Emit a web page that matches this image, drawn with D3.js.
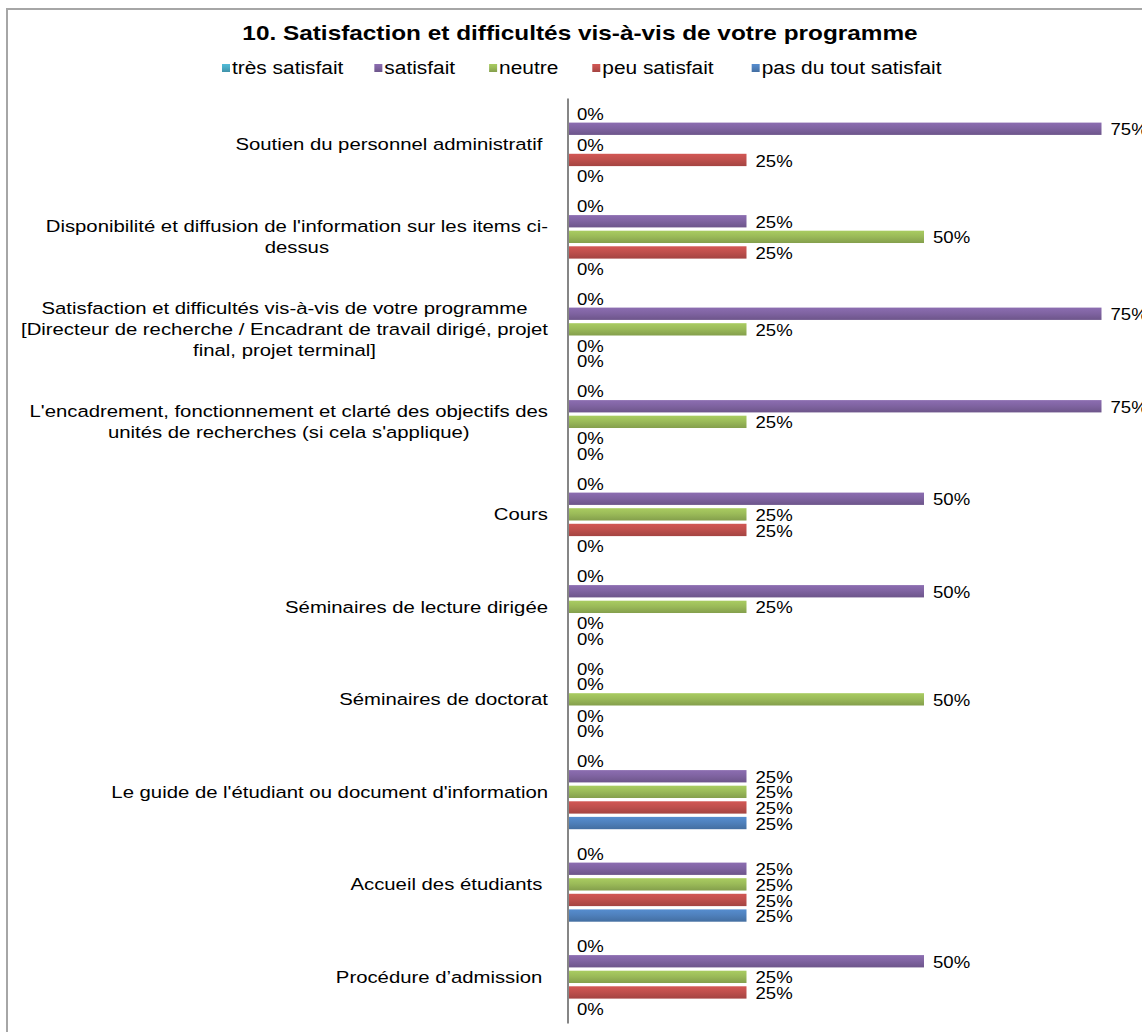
<!DOCTYPE html>
<html><head><meta charset="utf-8">
<script src="https://cdn.jsdelivr.net/npm/d3@7"></script>
<style>
body{margin:0;background:#fff}
text{font-family:"Liberation Sans",Arial,sans-serif;white-space:pre;fill:#000}
</style>
</head><body>
<svg id="chart" width="1142" height="1032"></svg>
<script>
const chartTitle = "10. Satisfaction et difficultés vis-à-vis de votre programme";
const seriesNames = ["très satisfait","satisfait","neutre","peu satisfait","pas du tout satisfait"];
const seriesColors = ["#4BACC6","#8064A2","#9BBB59","#C0504D","#4F81BD"];
const categories = [
  "Soutien du personnel administratif ",
  "Disponibilité et diffusion de l'information sur les items ci-\ndessus",
  "Satisfaction et difficultés vis-à-vis de votre programme\n[Directeur de recherche / Encadrant de travail dirigé, projet\nfinal, projet terminal]",
  "L'encadrement, fonctionnement et clarté des objectifs des\nunités de recherches (si cela s'applique)",
  "Cours",
  "Séminaires de lecture dirigée",
  "Séminaires de doctorat",
  "Le guide de l'étudiant ou document d'information",
  "Accueil des étudiants ",
  "Procédure d’admission "
];
const tresSatisfait = [0,0,0,0,0,0,0,0,0,0];
const satisfait     = [75,25,75,75,50,50,0,25,25,50];
const neutre        = [0,50,25,25,25,25,50,25,25,25];
const peuSatisfait  = [25,25,0,0,25,0,0,25,25,25];
const pasDuTout     = [0,0,0,0,0,0,0,25,25,0];
const seriesValues = [tresSatisfait, satisfait, neutre, peuSatisfait, pasDuTout];

const SX = 1.16;   // horizontal text stretch seen in the reference
const SXC = 1.195; // category labels
const svg = d3.select("#chart");
const defs = svg.append("defs");
seriesColors.forEach((c,i)=>{
  const g = defs.append("linearGradient").attr("id","g"+i).attr("x1",0).attr("y1",0).attr("x2",0).attr("y2",1);
  g.append("stop").attr("offset","0%").attr("stop-color", d3.color(c).brighter(0.25));
  g.append("stop").attr("offset","45%").attr("stop-color", c);
  g.append("stop").attr("offset","100%").attr("stop-color", d3.color(c).darker(0.45));
});

// border
svg.append("path").attr("d","M7,1032V9H1142").attr("fill","none").attr("stroke","#a6a6a6").attr("stroke-width",2);

function stext(parent, x, y, str, size, anchor, weight, sx){
  const s = sx || SX;
  return parent.append("text")
    .attr("transform",`translate(${x},${y}) scale(${s},1)`)
    .attr("font-size",size).attr("text-anchor",anchor||"start")
    .attr("font-weight",weight||"normal").attr("dy","0.35em").text(str);
}

// title
stext(svg, 580, 33, chartTitle, 21, "middle", "bold");

// legend
const legend = svg.append("g");
let lx = 222;
const legendGaps = [31, 34, 34, 38];
seriesNames.forEach((n,i)=>{
  const g = legend.append("g");
  g.append("rect").attr("x",lx).attr("y",64).attr("width",8).attr("height",8).attr("fill",`url(#g${i})`);
  const t = stext(g, lx+10, 68, n, 18, "start");
  const w = t.node().getComputedTextLength()*SX;
  lx += 10 + w + (legendGaps[i] || 0);
});

// scales
const y0 = d3.scaleBand().domain(categories).range([98.1, 1023.1]).paddingInner(0.157).paddingOuter(0.0785);
const y1 = d3.scaleBand().domain(seriesNames).range([0, y0.bandwidth()]).paddingInner(0.21).paddingOuter(0.105);
const x = d3.scaleLinear().domain([0,75]).range([569, 1101.5]);

// bars
const groups = svg.append("g").selectAll("g").data(categories).join("g")
  .attr("transform", d=>`translate(0,${y0(d)})`);
groups.each(function(cat, ci){
  const g = d3.select(this);
  seriesNames.forEach((s, si)=>{
    const v = seriesValues[si][ci];
    const yy = y1(s);
    if (v > 0) {
      g.append("rect").attr("x", x(0)).attr("y", yy).attr("width", x(v)-x(0)).attr("height", y1.bandwidth())
        .attr("fill", `url(#g${si})`);
    }
    stext(g, x(v) + (v>0 ? 9 : 8), yy + y1.bandwidth()/2 + 1, v + "%", 16, "start");
  });
});

// axis line
const axis = svg.append("g").attr("transform","translate(567.5,0)")
  .call(d3.axisLeft(y0).tickSize(0).tickFormat(""));
axis.select(".domain").attr("stroke","#868686").attr("stroke-width",2);

// category labels
const labRight = 548;
const lineH = 21;
categories.forEach(cat=>{
  const lines = cat.split("\n");
  const cy = y0(cat) + y0.bandwidth()/2;
  const g = svg.append("g");
  if (lines.length === 1) {
    stext(g, labRight, cy, lines[0], 17, "end", "normal", SXC);
  } else {
    const ts = lines.map((l,i)=> stext(g, 0, cy + (i-(lines.length-1)/2)*lineH, l, 17, "middle", "normal", SXC));
    const bw = d3.max(ts, t=>t.node().getComputedTextLength()*SXC);
    const cx = labRight - bw/2;
    ts.forEach((t,i)=> t.attr("transform",`translate(${cx},${cy + (i-(lines.length-1)/2)*lineH}) scale(${SXC},1)`));
  }
});
</script>
</body></html>
